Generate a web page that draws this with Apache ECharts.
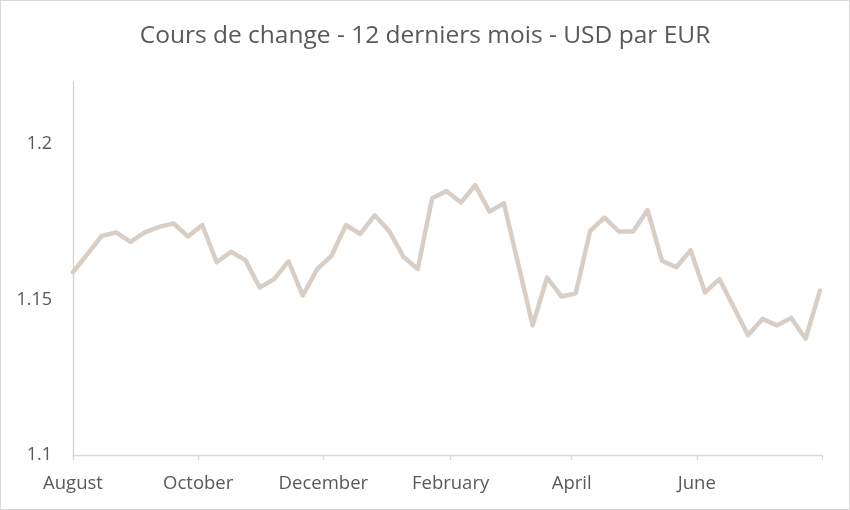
<!DOCTYPE html>
<html>
<head>
<meta charset="utf-8">
<script src="https://cdn.jsdelivr.net/npm/echarts@6/dist/echarts.min.js"></script>
<style>
html,body{margin:0;padding:0;background:#fff;}
#chart{width:850px;height:510px;box-sizing:border-box;border:1px solid #d9d9d9;}
</style>
</head>
<body>
<div id="chart"></div>
<script>
// Weekly observation dates
var weekDates = [
  '2025-08-01','2025-08-08','2025-08-15','2025-08-22','2025-08-29',
  '2025-09-05','2025-09-12','2025-09-19','2025-09-26',
  '2025-10-03','2025-10-10','2025-10-17','2025-10-24','2025-10-31',
  '2025-11-07','2025-11-14','2025-11-21','2025-11-28',
  '2025-12-05','2025-12-12','2025-12-19','2025-12-26',
  '2026-01-02','2026-01-09','2026-01-16','2026-01-23','2026-01-30',
  '2026-02-06','2026-02-13','2026-02-20','2026-02-27',
  '2026-03-06','2026-03-13','2026-03-20','2026-03-27',
  '2026-04-03','2026-04-10','2026-04-17','2026-04-24',
  '2026-05-01','2026-05-08','2026-05-15','2026-05-22','2026-05-29',
  '2026-06-05','2026-06-12','2026-06-19','2026-06-26',
  '2026-07-03','2026-07-10','2026-07-17','2026-07-24','2026-07-31'
];
// USD per EUR
var usdPerEur = [
  1.1588,1.1646,1.1705,1.1716,1.1686,
  1.1716,1.1734,1.1745,1.1703,
  1.1740,1.1620,1.1654,1.1627,1.1539,
  1.1566,1.1623,1.1513,1.1598,
  1.1641,1.1740,1.1711,1.1771,
  1.1721,1.1638,1.1598,1.1826,1.1849,
  1.1812,1.1868,1.1783,1.1810,
  1.1613,1.1417,1.1571,1.1510,
  1.1520,1.1721,1.1764,1.1719,
  1.1719,1.1788,1.1625,1.1604,1.1659,
  1.1523,1.1566,1.1475,1.1385,
  1.1438,1.1417,1.1441,1.1374,1.1529
];
// Axis labels (month ticks every two months)
var monthTicks = ['2025-08-01','2025-10-01','2025-12-01','2026-02-01','2026-04-01','2026-06-01','2026-08-01'];
var monthNames = ['January','February','March','April','May','June','July','August','September','October','November','December'];
var yTicks = [1.1, 1.15, 1.2];
var titleText = 'Cours de change - 12 derniers mois - USD par EUR';

function toTime(s){
  var p = s.split('-');
  return new Date(+p[0], +p[1]-1, +p[2]).getTime();
}
var tickTimes = monthTicks.map(toTime);
var labelTimes = tickTimes.slice(0, tickTimes.length - 1);
var seriesData = weekDates.map(function(d, i){ return [toTime(d), usdPerEur[i]]; });

var chart = echarts.init(document.getElementById('chart'), null, {renderer:'canvas'});
var font = '"Open Sans", Calibri, sans-serif';
chart.setOption({
  animation: false,
  backgroundColor: '#ffffff',
  title: {
    text: titleText,
    left: 'center',
    top: 18,
    textStyle: {fontFamily: font, fontSize: 24.5, fontWeight: 'normal', color: '#595959'}
  },
  grid: {left: 72, right: 27, top: 81, bottom: 54, containLabel: false},
  xAxis: {
    type: 'value',
    min: tickTimes[0],
    max: tickTimes[tickTimes.length - 1],
    splitLine: {show: false},
    axisLine: {show: true, lineStyle: {color: '#d9d9d9', width: 1.3}},
    axisTick: {show: true, length: 5, customValues: tickTimes, lineStyle: {color: '#d9d9d9', width: 1.3}},
    axisLabel: {
      customValues: labelTimes,
      margin: 19,
      fontFamily: font, fontSize: 18.5, color: '#595959',
      formatter: function(v){ return monthNames[new Date(v).getMonth()]; }
    }
  },
  yAxis: {
    type: 'value',
    min: yTicks[0],
    max: 1.22,
    interval: 0.05,
    splitLine: {show: false},
    axisLine: {show: true, lineStyle: {color: '#d9d2cc', width: 1.3}},
    axisTick: {show: false},
    axisLabel: {
      showMaxLabel: false,
      margin: 21,
      fontFamily: font, fontSize: 18, color: '#595959',
      formatter: function(v){
        for (var i = 0; i < yTicks.length; i++) { if (Math.abs(v - yTicks[i]) < 1e-9) return String(yTicks[i]); }
        return '';
      }
    }
  },
  series: [{
    type: 'line',
    data: seriesData,
    showSymbol: false,
    symbol: 'none',
    lineStyle: {color: '#d8cec6', width: 4.5, join: 'round', cap: 'round'},
    itemStyle: {color: '#d8cec6'}
  }]
});
</script>
</body>
</html>
